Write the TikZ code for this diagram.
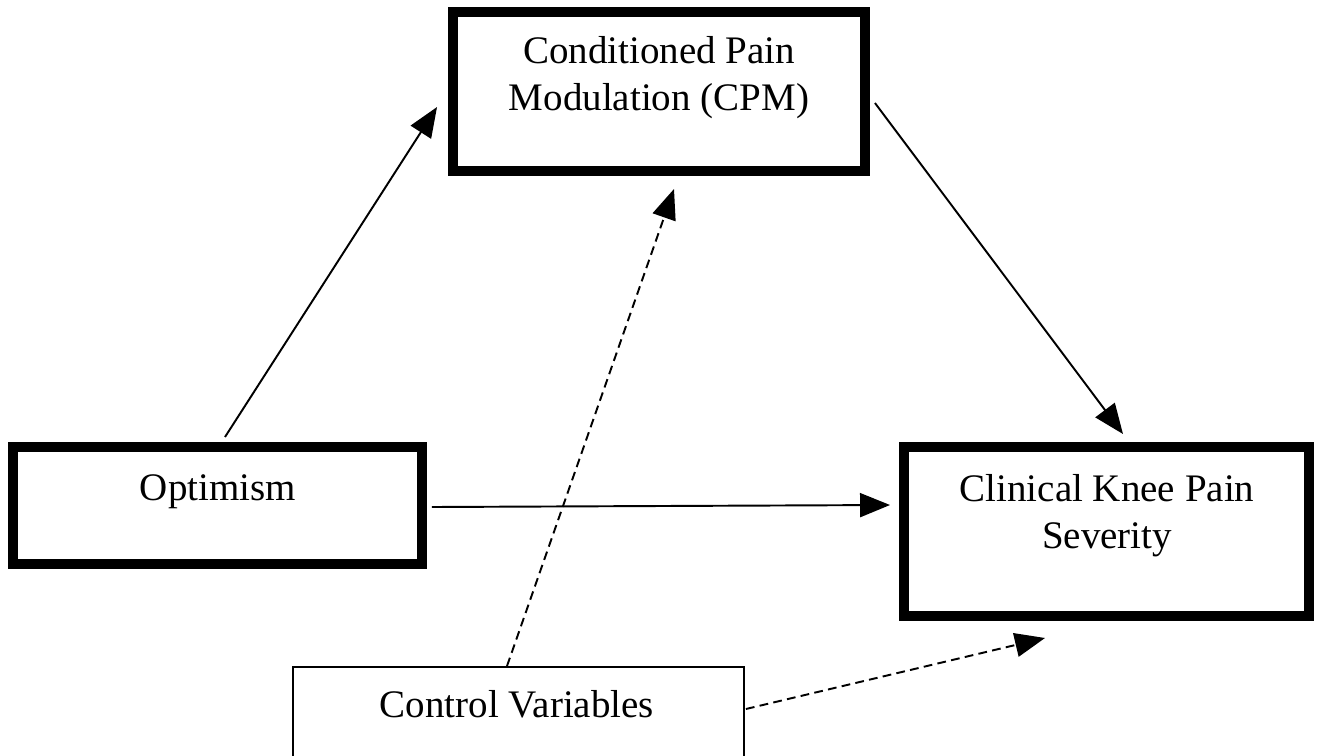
\documentclass[tikz,border=0pt]{standalone}
\usepackage{fontspec}
\setmainfont{Liberation Serif}
\usepackage{tikz}
\usetikzlibrary{arrows.meta,positioning,calc}

\begin{document}
\begin{tikzpicture}[
    x=0.02cm, y=-0.02cm,
    >={Triangle[length=0.6cm, width=0.48cm]},
    varbox/.style={draw, line width=5.7pt, minimum width=8.2cm},
    ctrlbox/.style={draw, line width=1.1pt, minimum width=9.02cm, minimum height=2.4cm},
    txt/.style={font=\fontsize{22.2}{26.7}\selectfont, align=center, inner sep=0pt},
    path/.style={->, line width=1.1pt},
    ctrlpath/.style={->, line width=1.1pt, dash pattern=on 5pt off 3pt},
]

% Page frame
\clip (0,0) rectangle (1320,755);

% Conditioned Pain Modulation box
\node[varbox, minimum width=8.24cm, minimum height=3.18cm] (cpm) at (659, 91.5) {};
\node[txt] (cpmtext) at (659, 78) {Conditioned Pain\\Modulation (CPM)};

% Optimism box
\node[varbox, minimum width=8.18cm, minimum height=2.34cm] (opt) at (217.5, 505.5) {};
\node[txt, anchor=base] (opttext) at (218, 500) {Optimism};

% Clinical Knee Pain Severity box
\node[varbox, minimum width=8.1cm, minimum height=3.38cm] (clin) at (1106.5, 531.5) {};
\node[txt] (clintext) at (1107, 516) {Clinical Knee Pain\\Severity};

% Control Variables box (runs off the bottom)
\node[ctrlbox] (ctrl) at (518.5, 727) {};
\node[txt, anchor=base] (ctrltext) at (517, 717) {Control Variables};

% Paths
\draw[path] ($(opt.north)+(7.5,-5)$) -- ($(cpm.west)+(-11,15.5)$);
\draw[path] ($(cpm.east)+(5,11.5)$) -- ($(clin.north)+(16.5,-8)$);
\draw[path] ($(opt.east)+(5,1.5)$) -- ($(clin.west)+(-9,-26.5)$);

% Control paths (dashed)
\draw[ctrlpath] ($(ctrl.north)+(-11.5,0)$) -- ($(cpm.south)+(15,13)$);
\draw[ctrlpath] ($(ctrl.east)+(1,-18)$) -- ($(clin.south)+(-61.5,17)$);

\end{tikzpicture}
\end{document}
